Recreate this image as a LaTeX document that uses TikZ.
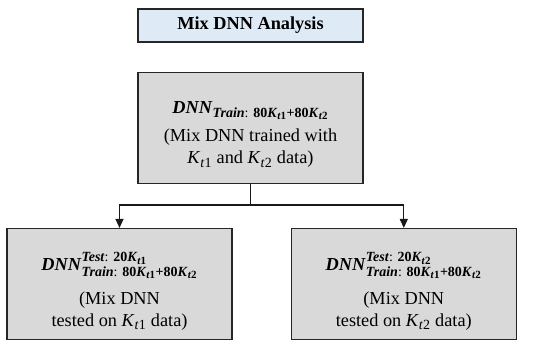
\documentclass[tikz,border=0pt]{standalone}
\usepackage{amsmath}
\usepackage{fontspec}
\setmainfont{Liberation Serif}
\DeclareMathSizes{18.3}{18.3}{14}{11}
\usetikzlibrary{positioning, arrows.meta}
\definecolor{boxgray}{HTML}{D9D9D9}
\definecolor{titleblue}{HTML}{DEEBF7}
\newcommand{\bi}[1]{\textbf{\textit{#1}}}
\newcommand{\Kb}[1]{\text{\bi{K}}_{\text{\bi{t}\textbf{#1}}}}
\newcommand{\Kn}[1]{\text{\textit{K}}_{\text{\textit{t}#1}}}
\newcommand{\train}{\text{\bi{Train}: \textbf{80}}\Kb{1}\text{\textbf{+80}}\Kb{2}}
\tikzset{
  > = {Triangle[length = 9pt, width = 8pt]},
  every node/.style = {font = \fontsize{18.3}{22}\selectfont},
  heading/.style = {draw = black!85, line width = 1.3pt, fill = titleblue,
    minimum width = 225pt, minimum height = 33pt, inner sep = 0pt},
  stage/.style = {heading, fill = boxgray, align = center,
    minimum height = 111pt},
  link/.style = {line width = 1.2pt, black!90},
  flow/.style = {link, ->}
}
\begin{document}
\begin{tikzpicture}
\useasboundingbox (0,0) rectangle (550pt,347pt);

%% Boxes
\node [heading] (title) at (250.5pt,321.5pt) {\textbf{Mix DNN Analysis}};
\node [stage] (main) [below = 29pt of title]
  {\rule{0pt}{26pt}$\text{\bi{DNN}}_{\train}$\\[6pt] (Mix DNN trained with\\ $\Kn{1}$ and $\Kn{2}$ data)};
\node [stage] (testA) [below = 44pt of main, xshift = -131pt]
  {\rule{0pt}{32pt}$\text{\bi{DNN}}^{\text{\bi{Test}: \textbf{20}}\Kb{1}}_{\train}$\\[12pt] (Mix DNN\\ tested on $\Kn{1}$ data)};
\node [stage] (testB) [right = 58pt of testA]
  {\rule{0pt}{32pt}$\text{\bi{DNN}}^{\text{\bi{Test}: \textbf{20}}\Kb{2}}_{\train}$\\[12pt] (Mix DNN\\ tested on $\Kn{2}$ data)};

%% Connectors
\coordinate [below = 21pt of main] (fork);
\draw [link] (main) -- (fork);
\draw [flow] (fork) -| (testA);
\draw [flow] (fork) -| (testB);

\end{tikzpicture}
\end{document}
